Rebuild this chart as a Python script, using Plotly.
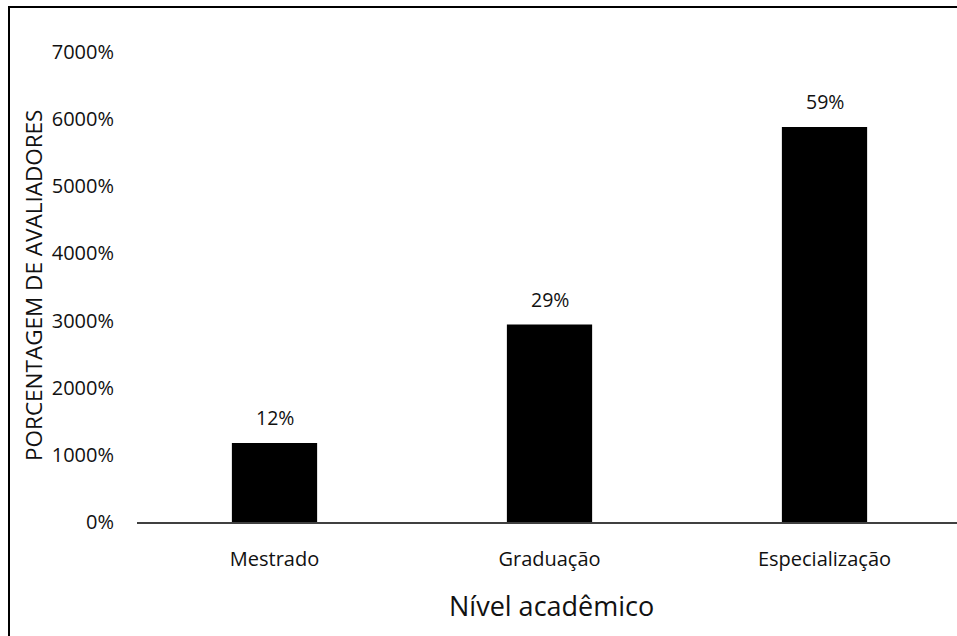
import plotly.graph_objects as go

categories = ["Mestrado", "Graduação", "Especialização"]
values = [1176, 2941, 5882]
labels = ["12%", "29%", "59%"]
y_ticks = [0, 1000, 2000, 3000, 4000, 5000, 6000, 7000]
y_tick_text = [f"{v}%" for v in y_ticks]

W, H = 957, 636
L, R_px, T, B_px = 137, 957, 52, 522  # plot area in pixels

fig = go.Figure(go.Bar(
    x=categories, y=values,
    marker=dict(color="black", line=dict(width=0)), width=0.31,
))

pw = R_px - L
ph = B_px - T

def px2paper_x(px):
    return (px - L) / pw

def px2paper_y(py):
    return (B_px - py) / ph

annots = [
    dict(text=t, x=c, y=v, xref="x", yref="y", xanchor="center", yanchor="bottom",
         yshift=10, showarrow=False, font=dict(size=19.5, color="#111"))
    for c, v, t in zip(categories, values, labels)
]
annots += [
    dict(text="Nível acadêmico", xref="paper", yref="paper",
         x=px2paper_x(551), y=px2paper_y(605), xanchor="center", yanchor="middle",
         showarrow=False, font=dict(size=27, color="#111")),
    dict(text="PORCENTAGEM DE AVALIADORES", xref="paper", yref="paper",
         x=px2paper_x(33), y=px2paper_y(286), xanchor="center", yanchor="middle",
         textangle=-90, showarrow=False, font=dict(size=22.5, color="#111")),
]

fig.update_layout(
    width=W, height=H,
    margin=dict(l=L, r=W - R_px, t=T, b=H - B_px, pad=0),
    plot_bgcolor="white", paper_bgcolor="white",
    showlegend=False,
    font=dict(family="Open Sans", color="#111"),
    xaxis=dict(
        range=[-0.5, -0.5 + pw / 275], showgrid=False, showline=True,
        linecolor="#404040", linewidth=1.5, ticks="", zeroline=False,
        tickfont=dict(size=20, color="#111"), ticklabelstandoff=18,
    ),
    yaxis=dict(
        range=[0, 7000], tickvals=y_ticks, ticktext=y_tick_text,
        showgrid=False, showline=False, zeroline=False, ticks="",
        tickfont=dict(size=20, color="#111"), ticklabelstandoff=22,
    ),
    shapes=[dict(
        type="rect", xref="paper", yref="paper",
        x0=px2paper_x(9), x1=px2paper_x(1000),
        y0=px2paper_y(700), y1=px2paper_y(7),
        line=dict(color="black", width=2), fillcolor="rgba(0,0,0,0)",
    )],
    annotations=annots,
)

fig.write_html("out.html")
